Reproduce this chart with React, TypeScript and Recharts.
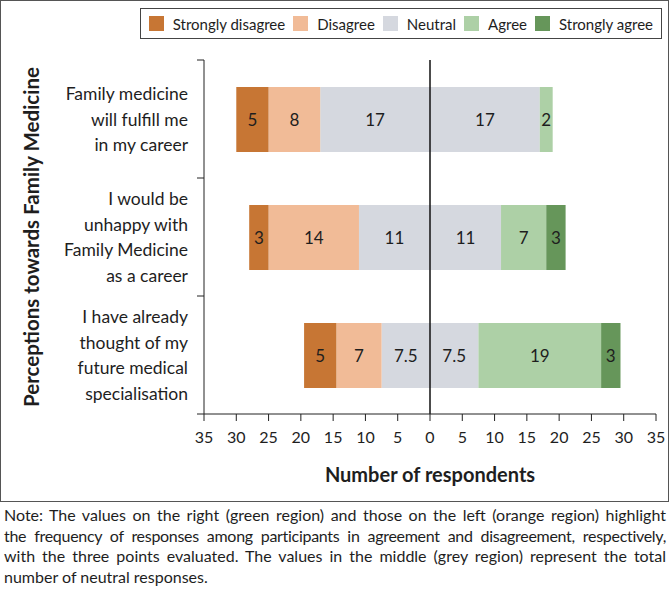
import { BarChart, Bar, XAxis, YAxis, ReferenceLine, LabelList } from 'recharts';

const categoryLines = [
  ['Family medicine', 'will fulfill me', 'in my career'],
  ['I would be', 'unhappy with', 'Family Medicine', 'as a career'],
  ['I have already', 'thought of my', 'future medical', 'specialisation'],
];
const categories = categoryLines.map((l) => l.join(' '));

const stronglyDisagree = [5, 3, 5];
const disagree = [8, 14, 7];
const neutralLeft = [17, 11, 7.5];
const neutralRight = [17, 11, 7.5];
const agree = [2, 7, 19];
const stronglyAgree = [0, 3, 3];

const xTicks = [-35, -30, -25, -20, -15, -10, -5, 0, 5, 10, 15, 20, 25, 30, 35];

const noteLines = [
  'Note: The values on the right (green region) and those on the left (orange region) highlight',
  'the frequency of responses among participants in agreement and disagreement, respectively,',
  'with the three points evaluated. The values in the middle (grey region) represent the total',
  'number of neutral responses.',
];

const COLORS = {
  sd: '#C77634',
  d: '#F1BB97',
  n: '#D5D8DF',
  a: '#ADD0A6',
  sa: '#66965A',
};

const legendItems = [
  { label: 'Strongly disagree', color: COLORS.sd },
  { label: 'Disagree', color: COLORS.d },
  { label: 'Neutral', color: COLORS.n },
  { label: 'Agree', color: COLORS.a },
  { label: 'Strongly agree', color: COLORS.sa },
];

const data = categories.map((name, i) => ({
  name,
  nl: -neutralLeft[i],
  d: -disagree[i],
  sd: -stronglyDisagree[i],
  nr: neutralRight[i],
  a: agree[i],
  sa: stronglyAgree[i],
}));

const FONT = 'Lato, "Open Sans", sans-serif';
const INK = '#1e1e1e';
const PLOT_TOP = 60;
const PLOT_BOTTOM = 414;
const AXIS_X = 204;
const BAND = (PLOT_BOTTOM - PLOT_TOP) / categories.length;

// multi-line category label + separator ticks at the band edges (Excel style)
function CategoryTick(props: any) {
  const { x, y, payload } = props;
  const idx = payload.index ?? categories.indexOf(payload.value);
  const lines = categoryLines[idx] || [];
  const lh = 25.7;
  const y0 = y - ((lines.length - 1) * lh) / 2;
  return (
    <g>
      <line x1={AXIS_X - 7} x2={AXIS_X} y1={y - BAND / 2} y2={y - BAND / 2} stroke="#222" />
      {idx === categories.length - 1 && (
        <line x1={AXIS_X - 7} x2={AXIS_X} y1={y + BAND / 2} y2={y + BAND / 2} stroke="#222" />
      )}
      <text x={x} y={y0} textAnchor="end" fontSize={17.5} fill={INK} fontFamily={FONT}>
        {lines.map((t, k) => (
          <tspan key={k} x={x} y={y0 + k * lh} dominantBaseline="central">
            {t}
          </tspan>
        ))}
      </text>
    </g>
  );
}

function LegendBox() {
  return (
    <div
      style={{
        position: 'absolute',
        top: 8,
        right: 8,
        display: 'flex',
        alignItems: 'center',
        border: '1px solid #444',
        height: 31,
        boxSizing: 'border-box',
        padding: '0 0 0 8px',
        background: '#fff',
        fontFamily: FONT,
        fontSize: 15,
        color: INK,
      }}
    >
      {legendItems.map((it) => (
        <div key={it.label} style={{ display: 'flex', alignItems: 'center', marginRight: 8 }}>
          <span style={{ width: 15, height: 15, background: it.color, marginRight: 9, display: 'inline-block' }} />
          <span>{it.label}</span>
        </div>
      ))}
    </div>
  );
}

const fmt = (v: any) => (Number(v) === 0 ? '' : Math.abs(Number(v)));

const barLabel = { position: 'center' as const, fill: INK, fontSize: 17, fontFamily: FONT };

export default function App() {
  const series = [
    { key: 'nl', color: COLORS.n },
    { key: 'd', color: COLORS.d },
    { key: 'sd', color: COLORS.sd },
    { key: 'nr', color: COLORS.n },
    { key: 'a', color: COLORS.a },
    { key: 'sa', color: COLORS.sa },
  ];

  return (
    <div style={{ position: 'absolute', left: 0, top: 0, width: 670, height: 589, background: '#fff' }}>
      <div
        style={{
          position: 'absolute',
          left: 0,
          top: 0,
          width: 669,
          height: 502,
          border: '1.5px solid #555',
          boxSizing: 'border-box',
        }}
      />
      <div style={{ position: 'absolute', left: 0, top: 0 }}>
        <BarChart
          width={670}
          height={502}
          data={data}
          layout="vertical"
          stackOffset="sign"
          barSize={65}
          margin={{ top: PLOT_TOP, right: 14, bottom: 0, left: 0 }}
        >
          <XAxis
            type="number"
            domain={[-35, 35]}
            ticks={xTicks}
            tickFormatter={(v) => String(Math.abs(v))}
            tickSize={7}
            tickMargin={11}
            height={88}
            stroke="#222"
            tick={{ fill: INK, fontSize: 16, fontFamily: FONT }}
            label={{
              value: 'Number of respondents',
              position: 'insideBottom',
              offset: 20,
              fill: INK,
              fontSize: 20,
              fontWeight: 700,
              fontFamily: FONT,
            }}
          />
          <YAxis
            type="category"
            dataKey="name"
            width={AXIS_X}
            tickLine={false}
            tickSize={0}
            tickMargin={16}
            stroke="#222"
            tick={<CategoryTick />}
            label={{
              content: (p: any) => {
                const vb = p.viewBox || {};
                const cx = 31;
                const cy = (vb.y ?? PLOT_TOP) + (vb.height ?? PLOT_BOTTOM - PLOT_TOP) / 2;
                return (
                  <text
                    x={cx}
                    y={cy}
                    transform={`rotate(-90 ${cx} ${cy})`}
                    textAnchor="middle"
                    dominantBaseline="central"
                    fontSize={20.5}
                    fontWeight={700}
                    fill={INK}
                    fontFamily={FONT}
                  >
                    Perceptions towards Family Medicine
                  </text>
                );
              },
            }}
          />
          {series.map((s) => (
            <Bar key={s.key} dataKey={s.key} stackId="s" fill={s.color} isAnimationActive={false}>
              <LabelList dataKey={s.key} {...barLabel} formatter={fmt} />
            </Bar>
          ))}
          <ReferenceLine x={0} stroke="#111" strokeWidth={1.5} />
        </BarChart>
      </div>
      <LegendBox />
      <div
        style={{
          position: 'absolute',
          left: 4,
          top: 505,
          width: 662,
          fontFamily: FONT,
          fontSize: 16,
          lineHeight: '20.7px',
          color: INK,
        }}
      >
        {noteLines.map((t, i) => (
          <div
            key={i}
            style={{
              textAlign: i < noteLines.length - 1 ? 'justify' : 'left',
              textAlignLast: i < noteLines.length - 1 ? 'justify' : 'left',
              whiteSpace: 'nowrap',
              letterSpacing: i === 1 ? -0.3 : 0,
            }}
          >
            {t}
          </div>
        ))}
      </div>
    </div>
  );
}
